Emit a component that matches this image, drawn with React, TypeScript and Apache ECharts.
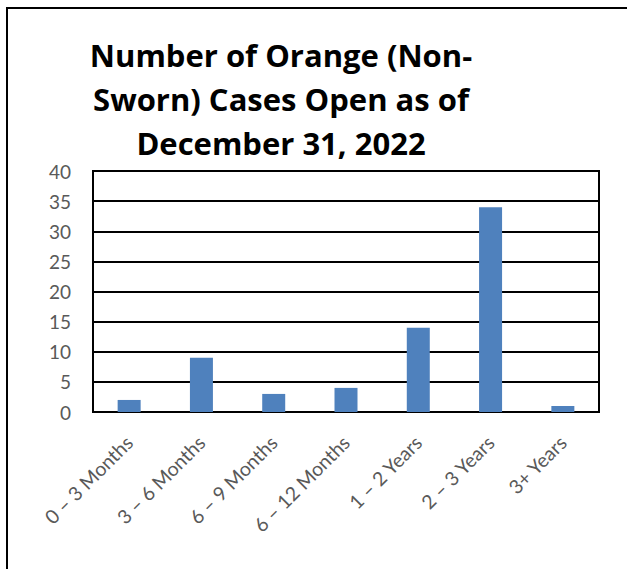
import React, { useEffect, useRef } from "react";
import * as echarts from "echarts";

const categories = ["0 – 3 Months", "3 – 6 Months", "6 – 9 Months", "6 – 12 Months", "1 – 2 Years", "2 – 3 Years", "3+ Years"];
const values = [2, 9, 3, 4, 14, 34, 1];
const titleLines = ["Number of Orange (Non-", "Sworn) Cases Open as of", "December 31, 2022"];

export default function App() {
  const ref = useRef<HTMLDivElement>(null);
  useEffect(() => {
    const chart = echarts.init(ref.current!, null, { renderer: "svg" });
    chart.setOption({
      animation: false,
      backgroundColor: "#ffffff",
      title: {
        text: titleLines.join("\n"),
        left: 276,
        top: 28,
        textAlign: "center",
        textStyle: { fontFamily: "Open Sans", fontWeight: "bold", fontSize: 31, lineHeight: 44, color: "#000" },
      },
      graphic: [
        { type: "rect", shape: { x: 7, y: 8, width: 660, height: 620 }, style: { fill: "none", stroke: "#000", lineWidth: 2 }, silent: true },
      ],
      grid: { left: 93, top: 171, width: 506, height: 241, show: true, borderColor: "#000", borderWidth: 2, backgroundColor: "transparent" },
      xAxis: {
        type: "category",
        data: categories,
        axisLine: { lineStyle: { color: "#000", width: 2 } },
        axisTick: { show: false },
        axisLabel: { rotate: 45, interval: 0, margin: 27, color: "#595959", fontSize: 19.5, fontFamily: "Lato" },
      },
      yAxis: {
        type: "value",
        min: 0,
        max: 40,
        interval: 5,
        axisLine: { show: false },
        axisTick: { show: false },
        splitLine: { lineStyle: { color: "#000", width: 2 } },
        axisLabel: { margin: 22, color: "#595959", fontSize: 19, fontFamily: "Lato" },
      },
      series: [
        { type: "bar", data: values, barWidth: 23, itemStyle: { color: "#4f81bd" } },
      ],
    });
    return () => chart.dispose();
  }, []);
  return <div ref={ref} style={{ position: "fixed", left: 0, top: 0, width: 627, height: 569 }} />;
}
